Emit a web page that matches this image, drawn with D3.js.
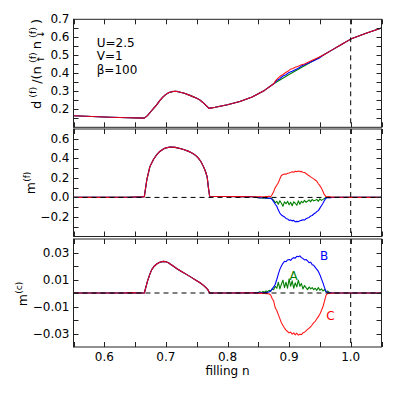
<!DOCTYPE html>
<html><head><meta charset="utf-8">
<script src="https://cdn.jsdelivr.net/npm/d3@7"></script>
<style>body{margin:0;background:#fff} svg{display:block} text{font-family:"DejaVu Sans",sans-serif;fill:#000}</style>
</head><body>
<svg id="c" width="395" height="395"></svg>
<script>
// ---------------- DATA ----------------
const xTicks = [0.55,0.6,0.65,0.7,0.75,0.8,0.85,0.9,0.95,1.0,1.05];
const xTickLabels = [0.6,0.7,0.8,0.9,1.0];

const dTicks = [0.15,0.2,0.25,0.3,0.35,0.4,0.45,0.5,0.55,0.6,0.65];
const dTickLabels = [0.2,0.3,0.4,0.5,0.6,0.7];
const mfTicks = [-0.3,-0.2,-0.1,0,0.1,0.2,0.3,0.4,0.5,0.6];
const mfTickLabels = [-0.2,0.0,0.2,0.4,0.6];
const mcTicks = [-0.03,-0.02,-0.01,0,0.01,0.02,0.03];
const mcTickLabels = [-0.03,-0.01,0.01,0.03];

// top panel d^(f)/(n_up n_dn): common parts
const dBase = [[0.55,0.164],[0.58,0.160],[0.61,0.156],[0.64,0.153],[0.665,0.151],[0.67,0.165],[0.675,0.185],[0.68,0.205],[0.685,0.225],[0.69,0.248],[0.695,0.268],[0.70,0.283],[0.705,0.293],[0.71,0.298],[0.715,0.300],[0.72,0.298],[0.73,0.289],[0.74,0.276],[0.75,0.262],[0.755,0.252],[0.76,0.238],[0.765,0.222],[0.77,0.205],[0.78,0.211],[0.80,0.225],[0.82,0.243],[0.84,0.268],[0.86,0.305],[0.875,0.342]];
const dTail = [[0.955,0.500],[0.97,0.530],[0.985,0.560],[1.0,0.590],[1.025,0.622],[1.05,0.652]];
const dA = [[0.90,0.393],[0.93,0.452]];
const dB = [[0.88,0.360],[0.885,0.370],[0.89,0.385],[0.895,0.392],[0.90,0.405],[0.905,0.412],[0.91,0.420],[0.915,0.428],[0.92,0.440],[0.93,0.455],[0.94,0.470],[0.95,0.487]];
const dC = [[0.878,0.358],[0.882,0.373],[0.886,0.385],[0.89,0.393],[0.894,0.403],[0.898,0.411],[0.902,0.422],[0.906,0.427],[0.91,0.434],[0.915,0.439],[0.92,0.447],[0.925,0.452],[0.93,0.460],[0.935,0.468],[0.94,0.476],[0.945,0.484],[0.95,0.492]];

// filling grid of the ordered region
const nGrid = [0.850,0.8525,0.855,0.8575,0.860,0.8625,0.865,0.8675,0.870,0.8725,0.875,0.8775,0.880,0.8825,0.885,0.8875,0.890,0.8925,0.895,0.8975,0.900,0.9025,0.905,0.9075,0.910,0.9125,0.915,0.9175,0.920,0.9225,0.925,0.9275,0.930,0.9325,0.935,0.9375,0.940,0.9425,0.945,0.9475,0.950,0.9525,0.955,0.9575,0.960,0.9625,0.965,0.9675,0.970];

// middle panel m^(f)
const mfBase = [[0.55,0],[0.60,0],[0.64,0.002],[0.66,0.005],[0.665,0.008],[0.669,0.18],[0.674,0.315],[0.68,0.39],[0.685,0.436],[0.69,0.47],[0.696,0.495],[0.70,0.507],[0.707,0.516],[0.715,0.512],[0.723,0.50],[0.73,0.487],[0.739,0.466],[0.745,0.445],[0.75,0.42],[0.753,0.40],[0.757,0.365],[0.761,0.315],[0.764,0.27],[0.767,0.21],[0.769,0.10],[0.771,0.012],[0.78,0.010],[0.80,0.009],[0.82,0.008],[0.84,0.006]];
const mfTail = [[0.975,0.001],[1.0,0],[1.05,0]];
const mfA = [-0.002,-0.005,-0.003,-0.008,-0.004,-0.01,-0.006,-0.012,-0.008,-0.015,-0.03,-0.055,-0.04,-0.07,-0.035,-0.06,-0.09,-0.045,-0.065,-0.04,-0.075,-0.05,-0.085,-0.045,-0.06,-0.08,-0.035,-0.07,-0.04,-0.055,-0.03,-0.05,-0.04,-0.025,-0.045,-0.02,-0.035,-0.03,-0.02,-0.04,-0.015,-0.03,-0.02,-0.01,-0.005,0.002,-0.002,0.0,0.0];
const mfB = [-0.003,-0.002,-0.004,-0.003,-0.005,-0.004,-0.008,-0.006,-0.01,-0.02,-0.045,-0.07,-0.09,-0.13,-0.16,-0.18,-0.19,-0.2,-0.215,-0.22,-0.235,-0.232,-0.24,-0.235,-0.25,-0.245,-0.248,-0.238,-0.235,-0.228,-0.232,-0.218,-0.21,-0.205,-0.19,-0.185,-0.17,-0.16,-0.145,-0.135,-0.11,-0.085,-0.06,-0.03,-0.005,-0.003,-0.002,-0.002,-0.001];
const mfC = [0.006,0.008,0.005,0.007,0.006,0.01,0.008,0.012,0.006,0.03,0.06,0.10,0.125,0.15,0.19,0.225,0.235,0.24,0.238,0.246,0.25,0.255,0.262,0.258,0.268,0.262,0.27,0.264,0.266,0.258,0.255,0.245,0.232,0.222,0.21,0.2,0.19,0.178,0.165,0.14,0.12,0.095,0.06,0.025,0.008,0.006,0.008,0.004,0.003];

// bottom panel m^(c)
const mcBase = [[0.55,0],[0.63,0],[0.645,0.0003],[0.655,0],[0.665,0],[0.670,0.0086],[0.674,0.014],[0.677,0.0173],[0.681,0.0198],[0.685,0.0215],[0.69,0.0228],[0.696,0.0234],[0.70,0.0231],[0.704,0.0224],[0.71,0.0205],[0.718,0.018],[0.726,0.0158],[0.734,0.0136],[0.742,0.0114],[0.750,0.0091],[0.756,0.0074],[0.761,0.0056],[0.765,0.0040],[0.768,0.0025],[0.771,0],[0.80,0],[0.84,0.0001]];
const mcTail = [[0.975,0],[1.0,0],[1.05,0]];
const mcA = [0.0005,0.001,0.0003,0.0012,0.0006,0.0015,0.001,0.002,0.0012,0.003,0.0025,0.005,0.0035,0.008,0.003,0.0065,0.0095,0.004,0.008,0.0035,0.0105,0.005,0.009,0.0035,0.0075,0.0045,0.0095,0.005,0.007,0.003,0.0055,0.004,0.0025,0.0045,0.003,0.004,0.0025,0.0035,0.002,0.004,0.002,0.003,0.0015,0.0025,0.001,0.0015,0.0005,0.0003,0.0001];
const mcB = [0.0002,0.0001,0.0003,0.0002,0.0004,0.0003,0.0006,0.0008,0.0015,0.003,0.0045,0.0065,0.010,0.014,0.0175,0.020,0.022,0.0235,0.0232,0.0245,0.0248,0.0242,0.0255,0.0262,0.0258,0.0272,0.0268,0.0275,0.0262,0.0255,0.0245,0.0248,0.0238,0.0225,0.0228,0.021,0.0205,0.019,0.0175,0.016,0.0135,0.0105,0.0075,0.004,0.001,0.0004,0.0002,0.0001,0.0];
const mcC = [-0.0002,-0.0003,-0.0001,-0.0004,-0.0003,-0.0005,-0.0004,-0.0008,-0.0015,-0.004,-0.006,-0.011,-0.013,-0.016,-0.019,-0.022,-0.024,-0.026,-0.0275,-0.0285,-0.0295,-0.029,-0.0305,-0.0295,-0.031,-0.0298,-0.0312,-0.0305,-0.0308,-0.0295,-0.029,-0.028,-0.027,-0.026,-0.025,-0.0235,-0.022,-0.021,-0.019,-0.0175,-0.0155,-0.013,-0.01,-0.006,-0.0015,-0.0004,-0.0003,-0.0002,-0.0001];

const seriesNames = ["A","B","C"];
const seriesColors = {A:"#008000", B:"#0000ff", C:"#ff0000"};

// ---------------- BUILD ----------------
const zipGrid = v => nGrid.map((n,i)=>[n,v[i]]);
const topSeries = {
  A: dBase.concat(dA, dTail),
  B: dBase.concat(dB, dTail),
  C: dBase.concat(dC, dTail)
};
const midSeries = {
  A: mfBase.concat(zipGrid(mfA), mfTail),
  B: mfBase.concat(zipGrid(mfB), mfTail),
  C: mfBase.concat(zipGrid(mfC), mfTail)
};
const botSeries = {
  A: mcBase.concat(zipGrid(mcA), mcTail),
  B: mcBase.concat(zipGrid(mcB), mcTail),
  C: mcBase.concat(zipGrid(mcC), mcTail)
};

const svg = d3.select("#c");
const L = 73.5, R = 381.5;
const x = d3.scaleLinear().domain([0.55,1.05]).range([L,R]);

const panels = [
  {y0:19.3, y1:127.3, dom:[0.1,0.7], ticks:dTicks, labels:dTickLabels, fmt:d3.format(".1f"), data:topSeries, zero:false},
  {y0:129, y1:236.5, dom:[-0.4,0.7], ticks:mfTicks, labels:mfTickLabels, fmt:d3.format(".1f"), data:midSeries, zero:true},
  {y0:239, y1:347, dom:[-0.04,0.04], ticks:mcTicks, labels:mcTickLabels, fmt:d3.format(".2f"), data:botSeries, zero:true}
];

const TL = 5;
panels.forEach((p,pi) => {
  const y = d3.scaleLinear().domain(p.dom).range([p.y1,p.y0]);
  p.y = y;
  const g = svg.append("g");
  const cid = "clip"+pi;
  svg.append("clipPath").attr("id",cid).append("rect").attr("x",L).attr("y",p.y0).attr("width",R-L).attr("height",p.y1-p.y0);
  const line = d3.line().x(d=>x(d[0])).y(d=>y(d[1]));
  const lg = g.append("g").attr("clip-path",`url(#${cid})`);
  seriesNames.forEach(k => {
    lg.append("path").datum(p.data[k]).attr("d",line).attr("fill","none")
      .attr("stroke",seriesColors[k]).attr("stroke-width",1.1)
      .attr("stroke-opacity", k==="C"?0.9:1).attr("stroke-linejoin","round");
  });
  // dashed lines
  lg.append("line").attr("x1",x(1.0)).attr("x2",x(1.0)).attr("y1",p.y0).attr("y2",p.y1)
    .attr("stroke","#000").attr("stroke-width",1).attr("stroke-dasharray","5,4");
  if (p.zero) {
    lg.append("line").attr("x1",L).attr("x2",R).attr("y1",y(0)).attr("y2",y(0))
      .attr("stroke","#000").attr("stroke-width",1).attr("stroke-dasharray","5,4");
  }
  // ticks
  const tg = g.append("g").attr("stroke","#222").attr("stroke-width",1);
  xTicks.forEach(t => {
    const xx = Math.round(x(t))+0.5;
    tg.append("line").attr("x1",xx).attr("x2",xx).attr("y1",p.y1).attr("y2",p.y1-TL);
    tg.append("line").attr("x1",xx).attr("x2",xx).attr("y1",p.y0).attr("y2",p.y0+TL);
  });
  p.ticks.forEach(t => {
    const yy = Math.round(y(t))+0.5;
    tg.append("line").attr("x1",L).attr("x2",L+TL).attr("y1",yy).attr("y2",yy);
    tg.append("line").attr("x1",R).attr("x2",R-TL).attr("y1",yy).attr("y2",yy);
  });
  p.labels.forEach(t => {
    g.append("text").attr("x",L-4).attr("y",y(t)).attr("text-anchor","end")
      .attr("dominant-baseline","central").attr("font-size",12).text(p.fmt(t));
  });
  // frame
  g.append("rect").attr("x",L).attr("y",p.y0).attr("width",R-L).attr("height",p.y1-p.y0)
    .attr("fill","none").attr("stroke","#222").attr("stroke-width",1);
});

// x tick labels
xTickLabels.forEach(t => {
  svg.append("text").attr("x",x(t)).attr("y",361).attr("text-anchor","middle").attr("font-size",12).text(d3.format(".1f")(t));
});
svg.append("text").attr("x",(L+R)/2).attr("y",375).attr("text-anchor","middle").attr("font-size",12).text("filling n");

// annotations
[["U=2.5",46.5],["V=1",60],["β=100",73.5]].forEach(([t,yy]) => {
  svg.append("text").attr("x",96.7).attr("y",yy).attr("font-size",12).text(t);
});
svg.append("text").attr("x",324).attr("y",260).attr("text-anchor","middle").attr("font-size",12).attr("style","fill:#0000ff").text("B");
svg.append("text").attr("x",293.7).attr("y",280).attr("text-anchor","middle").attr("font-size",12).attr("style","fill:#008000").text("A");
svg.append("text").attr("x",330.5).attr("y",320).attr("text-anchor","middle").attr("font-size",12).attr("style","fill:#ff0000").text("C");

// rotated math-like y labels
function buildLabel(tx, ty, items, targetLen) {
  const g = svg.append("g").attr("transform",`translate(${tx},${ty}) rotate(-90)`);
  const els = [];
  items.forEach(it => {
    const parts = it.stack ? it.stack : [it];
    const nodes = parts.map(pt => g.append("text").attr("font-size",pt.fs).attr("y",pt.dy||0).text(pt.t));
    const w = Math.max(...nodes.map(n => n.node().getComputedTextLength()));
    els.push({nodes, w});
  });
  const total = d3.sum(els, e=>e.w);
  const gap = targetLen ? Math.max(0,(targetLen-total)/(els.length-1)) : 0.3;
  let cx = -(total + gap*(els.length-1))/2;
  els.forEach(e => { e.nodes.forEach(n => n.attr("x",cx)); cx += e.w + gap; });
}
const MF = 13, SF = 9.5;
buildLabel(41, 64, [
  {t:"d",fs:MF},{t:"(f)",fs:SF,dy:-5.5},{t:"/(n",fs:MF},
  {stack:[{t:"(f)",fs:SF,dy:-5.5},{t:"↑",fs:SF,dy:3}]},
  {t:"n",fs:MF},
  {stack:[{t:"(f)",fs:SF,dy:-5.5},{t:"↓",fs:SF,dy:3}]},
  {t:")",fs:MF}
], 90);
buildLabel(35, 183, [{t:"m",fs:12.5},{t:"(f)",fs:9,dy:-5}], 0);
buildLabel(27, 294, [{t:"m",fs:12.5},{t:"(c)",fs:9,dy:-5}], 0);
</script>
</body></html>
